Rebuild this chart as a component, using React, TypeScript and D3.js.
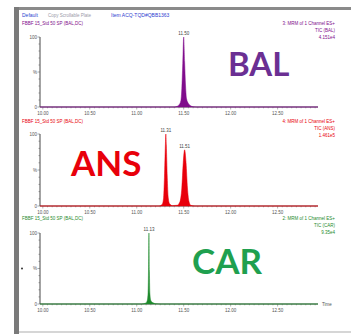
import * as d3 from "d3";

// time axis (min)
const timeDomain = [9.97, 12.93];
const timeTicks = [10.0, 10.5, 11.0, 11.5, 12.0, 12.5];

// BAL trace: [time, %]
const balTrace: [number, number][] = [
  [9.97, 0], [11.4, 0], [11.43, 1], [11.45, 3], [11.47, 9], [11.48, 26],
  [11.49, 62], [11.5, 100], [11.51, 64], [11.52, 30], [11.53, 12],
  [11.55, 5], [11.57, 2], [11.6, 0.5], [11.64, 0], [12.93, 0],
];

// ANS trace
const ansTrace: [number, number][] = [
  [9.97, 0], [11.24, 0], [11.27, 2], [11.285, 10], [11.295, 40],
  [11.305, 85], [11.31, 100], [11.315, 85], [11.325, 40], [11.335, 12],
  [11.35, 3], [11.38, 0.5], [11.43, 1], [11.46, 6], [11.48, 25],
  [11.495, 60], [11.51, 78], [11.525, 60], [11.54, 25], [11.555, 7],
  [11.575, 1], [11.62, 0], [12.93, 0],
];

// CAR trace
const carTrace: [number, number][] = [
  [9.97, 0], [11.05, 0], [11.09, 1], [11.11, 4], [11.12, 14],
  [11.125, 45], [11.13, 100], [11.135, 46], [11.14, 15], [11.15, 5],
  [11.17, 2], [11.2, 0.5], [11.26, 0], [12.93, 0],
];

const panels = [
  {
    trace: balTrace, color: "#800d8c", big: "BAL", bigColor: "#6b2f93",
    sample: "FBBF 15_Std 50 SP (BAL,DC)",
    right: ["3: MRM of 1 Channel ES+", "TIC (BAL)", "4.151e4"],
    peaks: [{ t: 11.5, label: "11.50" }],
    top: 37, base: 107, head: 25, bigX: 228, bigY: 76, bigSize: 33,
  },
  {
    trace: ansTrace, color: "#e8000b", big: "ANS", bigColor: "#e8000b",
    sample: "FBBF 15_Std 50 SP (BAL,DC)",
    right: ["4: MRM of 1 Channel ES+", "TIC (ANS)", "1.461e5"],
    peaks: [{ t: 11.31, label: "11.31" }, { t: 11.51, label: "11.51" }],
    top: 134, base: 206, head: 123, bigX: 71, bigY: 176, bigSize: 35,
  },
  {
    trace: carTrace, color: "#1e8a2c", big: "CAR", bigColor: "#1fa04f",
    sample: "FBBF 15_Std 50 SP (BAL,DC)",
    right: ["2: MRM of 1 Channel ES+", "TIC (CAR)", "9.35e4"],
    peaks: [{ t: 11.13, label: "11.13" }],
    top: 233, base: 304, head: 220, bigX: 192, bigY: 274, bigSize: 35,
  },
];

const W = 351;
const H = 334;
const axisLeft = 40;
const axisRight = 318;

export default function App() {
  const x = d3.scaleLinear().domain(timeDomain).range([axisLeft, axisRight]);
  const minorTicks = d3.range(10.0, 12.93, 0.05);

  return (
    <div style={{ position: "absolute", left: 0, top: 0 }}>
      <svg width={W} height={H} style={{ display: "block", fontFamily: "Liberation Sans, sans-serif" }}>
        <rect width={W} height={H} fill="#fff" />
        {/* frame */}
        <rect x={15} y={7} width={W - 15} height={3} fill="#8a8a8a" />
        <rect x={14} y={7} width={5} height={H - 7} fill="#7a7a7a" />
        <line x1={19} x2={W} y1={332} y2={332} stroke="#c8c8c8" strokeWidth={1.5} />

        {/* top toolbar */}
        <text x={22} y={17} fontSize={5} fill="#2b3fd0">Default</text>
        <text x={48} y={17} fontSize={4.5} fill="#9a9aa8">Copy Scrollable Plate</text>
        <text x={111} y={17} fontSize={5} fill="#3040d0">Item ACQ-TQD#QBB1363</text>

        {panels.map((p, pi) => {
          const y = d3.scaleLinear().domain([0, 100]).range([p.base, p.top]);
          const area = d3
            .area<[number, number]>()
            .x((d) => x(d[0]))
            .y0(p.base)
            .y1((d) => y(d[1]))
            .curve(d3.curveMonotoneX);
          return (
            <g key={pi}>
              <text x={22} y={p.head} fontSize={4.5} fill={p.color}>{p.sample}</text>
              {p.right.map((r, i) => (
                <text key={i} x={335} y={p.head + i * 7} fontSize={4.5} textAnchor="end" fill={p.color}>
                  {r}
                </text>
              ))}
              {/* y axis */}
              <line x1={axisLeft} x2={axisLeft} y1={p.top} y2={p.base} stroke="#333" strokeWidth={0.9} />
              {d3.range(0, 101, 10).map((v) => (
                <line key={v} x1={axisLeft - (v % 50 === 0 ? 2.5 : 1.5)} x2={axisLeft} y1={y(v)} y2={y(v)} stroke="#555" strokeWidth={0.5} />
              ))}
              <text x={37} y={y(100) + 1.5} fontSize={4.5} textAnchor="end" fill="#555">100</text>
              <text x={37} y={y(50) + 1.5} fontSize={4.5} textAnchor="end" fill="#555">%</text>
              <text x={37} y={y(0) + 1.5} fontSize={4.5} textAnchor="end" fill="#555">0</text>
              {pi === 2 && <circle cx={22} cy={y(50)} r={1} fill="#333" />}
              {/* x axis */}
              <line x1={axisLeft} x2={axisRight} y1={p.base} y2={p.base} stroke="#444" strokeWidth={0.9} />
              {minorTicks.map((t, i) => (
                <line key={i} x1={x(t)} x2={x(t)} y1={p.base} y2={p.base + (i % 10 === 0 ? 2.5 : 1.3)} stroke="#666" strokeWidth={0.5} />
              ))}
              {timeTicks.map((t) => (
                <text key={t} x={x(t)} y={p.base + 8} fontSize={4.5} textAnchor="middle" fill="#555">
                  {t.toFixed(2)}
                </text>
              ))}
              {pi === 2 && (
                <text x={322} y={p.base + 1.5} fontSize={4.5} fill="#555">Time</text>
              )}
              {/* trace */}
              <path d={area(p.trace) ?? ""} fill={p.color} stroke={p.color} strokeWidth={0.5} />
              {p.peaks.map((pk) => {
                const pt = p.trace.find((d) => d[0] === pk.t);
                return (
                  <text key={pk.label} x={x(pk.t)} y={y(pt ? pt[1] : 100) - 2} fontSize={4.5} textAnchor="middle" fill="#444">
                    {pk.label}
                  </text>
                );
              })}
              <text
                x={p.bigX}
                y={p.bigY}
                fontSize={p.bigSize}
                fontWeight="bold"
                fontFamily="Lato, 'Open Sans', sans-serif"
                fill={p.bigColor}
              >
                {p.big}
              </text>
            </g>
          );
        })}
      </svg>
    </div>
  );
}
